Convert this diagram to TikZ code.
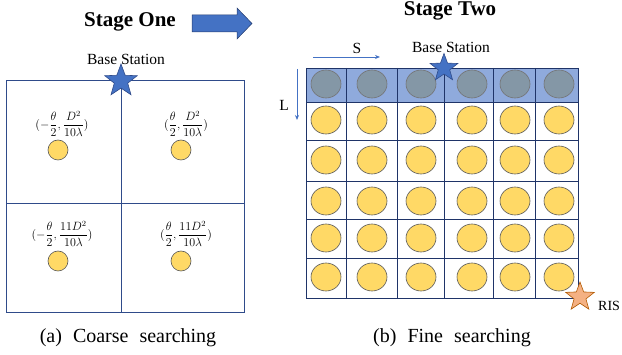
\documentclass[tikz,border=0pt]{standalone}
\usepackage{amsmath}
\usepackage{fontspec}
\setmainfont{Liberation Serif}
\usetikzlibrary{shapes.geometric,arrows.meta}
\definecolor{boxline}{HTML}{2F4B8A}
\definecolor{gridline}{HTML}{1F3468}
\definecolor{rowfill}{HTML}{8FAADC}
\definecolor{grayc}{HTML}{8497A6}
\definecolor{yellowc}{HTML}{FFD966}
\definecolor{starblue}{HTML}{4472C4}
\definecolor{starorange}{HTML}{F4B183}
\tikzset{
  ycirc/.style={ellipse, draw=black!65, fill=yellowc, line width=0.6pt, minimum width=30pt, minimum height=28pt, inner sep=0pt},
  gcirc/.style={ellipse, draw=black!55, fill=grayc, line width=0.6pt, minimum width=30pt, minimum height=28pt, inner sep=0pt},
  bigcirc/.style={circle, draw=black!65, fill=yellowc, line width=0.6pt, minimum size=20pt, inner sep=0pt},
  bstar/.style={star, star points=5, star point ratio=2.4, draw=boxline, fill=starblue, line width=0.6pt, inner sep=0pt},
  ostar/.style={star, star points=5, star point ratio=2.4, draw=orange!70!black, fill=starorange, line width=0.6pt, inner sep=0pt},
  lbl/.style={font=\fontsize{15.5}{18}\selectfont, inner sep=0pt},
  coordlbl/.style={font=\fontsize{12}{14}\selectfont, inner sep=0pt},
  captionlbl/.style={font=\fontsize{20}{24}\selectfont, inner sep=0pt},
  ttl/.style={font=\fontsize{21}{25}\selectfont\bfseries, inner sep=0pt},
  thinarrow/.style={draw=starblue, line width=0.8pt, -{Stealth[length=5pt,width=4pt]}},
}
\begin{document}
\begin{tikzpicture}[x=1pt,y=-1pt]
\useasboundingbox (0,0) rectangle (622,355);
% Stage One
\node[ttl] (t1) at (130,22) {Stage One};
\fill[starblue] (192,15) -- (237,15) -- (237,8) -- (252,23.5) -- (237,39) -- (237,32) -- (192,32) -- cycle;
\draw[boxline!80!black, line width=0.5pt] (192,15) -- (237,15) -- (237,8) -- (252,23.5) -- (237,39) -- (237,32) -- (192,32) -- cycle;
% coarse box
\draw[boxline, line width=0.8pt] (6,80) rectangle (244,312);
\draw[boxline, line width=0.8pt] (121,80) -- (121,312);
\draw[boxline, line width=0.8pt] (6,203) -- (244,203);
\node[lbl] (bs1) at (126,59) {Base Station};
\node[bstar, minimum size=34pt] (st1) at (121,81) {};
\node[coordlbl] (c1) at (62,124) {$(-\dfrac{\theta}{2},\dfrac{D^2}{10\lambda})$};
\node[coordlbl] (c2) at (186,124) {$(\dfrac{\theta}{2},\dfrac{D^2}{10\lambda})$};
\node[coordlbl] (c3) at (62,234) {$(-\dfrac{\theta}{2},\dfrac{11D^2}{10\lambda})$};
\node[coordlbl] (c4) at (186,234) {$(\dfrac{\theta}{2},\dfrac{11D^2}{10\lambda})$};
\node[bigcirc] (o1) at (58,150) {};
\node[bigcirc] (o2) at (181,150) {};
\node[bigcirc] (o3) at (58,261) {};
\node[bigcirc] (o4) at (181,261) {};
\node[captionlbl] (capa) at (128,338) {(a)\hspace{0.3em} Coarse\hspace{0.3em} searching};
% Stage Two
\node[ttl] (t2) at (450,11) {Stage Two};
\fill[rowfill] (306,68) rectangle (578,102);
\foreach \x in {306,346,397,444,493,535,578} \draw[gridline, line width=0.8pt] (\x,68) -- (\x,298);
\foreach \y in {68,102,140,181,219,258,298} \draw[gridline, line width=0.8pt] (306,\y) -- (578,\y);
\foreach \x [count=\i] in {326,372,421,472,515,559} {
  \node[gcirc] (g\i) at (\x,84) {};
  \foreach \y [count=\j] in {120,160,201,238,277} {
    \node[ycirc] (y\i\j) at (\x,\y) {};
  }
}
\node[lbl] (bs2) at (451,47) {Base Station};
\node[bstar, minimum size=29pt] (st2) at (444,68) {};
\node[lbl] (sl) at (357,48) {S};
\coordinate (sa) at (313,57);
\coordinate (sb) at (380,57);
\draw[thinarrow] (sa) -- (sb);
\node[lbl] (ll) at (284,105) {L};
\coordinate (la) at (297,69);
\coordinate (lb) at (297,120);
\draw[thinarrow] (la) -- (lb);
\node[ostar, minimum size=30pt] (st3) at (580,297) {};
\node[font=\fontsize{14}{16}\selectfont, inner sep=0pt, anchor=west] (ris) at (598,306) {RIS};
\node[captionlbl] (capb) at (452,338) {(b)\hspace{0.3em} Fine\hspace{0.3em} searching};
\end{tikzpicture}
\end{document}
